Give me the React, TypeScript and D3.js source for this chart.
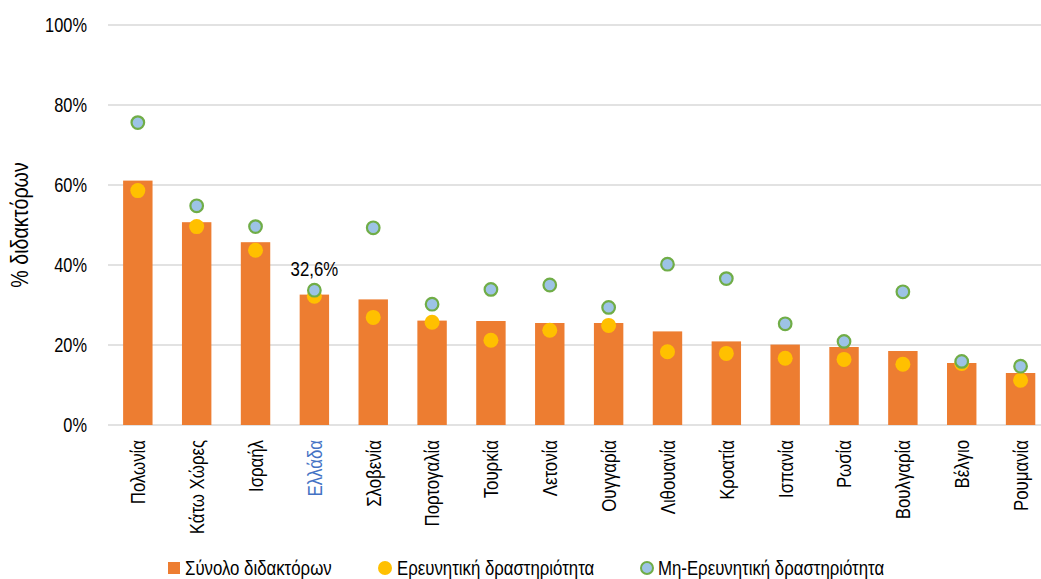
import React from "react";
import * as d3 from "d3";

const categories = ["Πολωνία","Κάτω Χώρες","Ισραήλ","Ελλάδα","Σλοβενία","Πορτογαλία","Τουρκία","Λετονία","Ουγγαρία","Λιθουανία","Κροατία","Ισπανία","Ρωσία","Βουλγαρία","Βέλγιο","Ρουμανία"];
const totalValues = [61.1,50.7,45.7,32.6,31.4,26.1,26.0,25.5,25.5,23.4,20.9,20.1,19.5,18.5,15.5,13.0];
const researchValues = [58.6,49.6,43.7,32.2,26.9,25.7,21.2,23.7,24.9,18.3,17.9,16.7,16.4,15.2,15.4,11.2];
const nonResearchValues = [75.6,54.8,49.6,33.7,49.3,30.2,33.9,35.0,29.4,40.2,36.6,25.3,20.9,33.3,15.9,14.7];
const yTicks = [0,20,40,60,80,100];
const seriesNames = ["Σύνολο διδακτόρων","Ερευνητική δραστηριότητα","Μη-Ερευνητική δραστηριότητα"];
const highlight = "Ελλάδα";
const highlightLabel = "32,6%";

const W = 1041, H = 579;
const FONT = "'Liberation Sans', Arial, sans-serif";
const ORANGE = "#ED7D31", YELLOW = "#FFC000", GREEN = "#70AD47", BLUE = "#9DC3E6", GRID = "#D9D9D9";

function T({ x, y, rot = 0, anchor = "start", children, fill = "#000", size = 21, sx = 0.8 }: any) {
  return (
    <text transform={`translate(${x},${y}) rotate(${rot}) scale(${sx},1)`} textAnchor={anchor} dy="0.35em"
      fontSize={size} fill={fill}>{children}</text>
  );
}

export default function App() {
  const x = d3.scaleBand<string>().domain(categories).range([108.4, 1050]).paddingInner(0.5).paddingOuter(0.25);
  const y = d3.scaleLinear().domain([0, 100]).range([425, 25]);
  const bw = x.bandwidth();
  const cx = (c: string) => (x(c) as number) + bw / 2;
  const hi = categories.indexOf(highlight);
  return (
    <svg width={W} height={H} style={{ position: "absolute", left: 0, top: 0, fontFamily: FONT }}>
      <rect width={W} height={H} fill="#fff" />
      {yTicks.map(t => (
        <g key={t}>
          <line x1={108} x2={W} y1={y(t)} y2={y(t)} stroke={GRID} strokeWidth={t === 0 ? 1.5 : 1.3} />
          <T x={87} y={y(t)} anchor="end" sx={0.78}>{t}%</T>
        </g>
      ))}
      {categories.map((c, i) => (
        <rect key={c} x={x(c)} y={y(totalValues[i])} width={bw} height={y(0) - y(totalValues[i])} fill={ORANGE} />
      ))}
      {categories.map((c, i) => (
        <circle key={"r" + c} cx={cx(c)} cy={y(researchValues[i])} r={7.5} fill={YELLOW} />
      ))}
      {categories.map((c, i) => (
        <circle key={"n" + c} cx={cx(c)} cy={y(nonResearchValues[i])} r={6.3} fill={BLUE} stroke={GREEN} strokeWidth={2.2} />
      ))}
      <T x={cx(highlight)} y={y(totalValues[hi]) - 26} anchor="middle">{highlightLabel}</T>
      {categories.map(c => (
        <T key={"l" + c} x={cx(c)} y={440} rot={-90} anchor="end" fill={c === highlight ? "#4472C4" : "#000"}>{c}</T>
      ))}
      <T x={20} y={225} rot={-90} anchor="middle" size={24} sx={0.82}>% διδακτόρων</T>
      <g>
        <rect x={168} y={562} width={12} height={12} fill={ORANGE} />
        <T x={185} y={568}>{seriesNames[0]}</T>
        <circle cx={385} cy={568} r={7} fill={YELLOW} />
        <T x={397} y={568}>{seriesNames[1]}</T>
        <circle cx={647} cy={568} r={6} fill={BLUE} stroke={GREEN} strokeWidth={2} />
        <T x={658} y={568}>{seriesNames[2]}</T>
      </g>
    </svg>
  );
}
